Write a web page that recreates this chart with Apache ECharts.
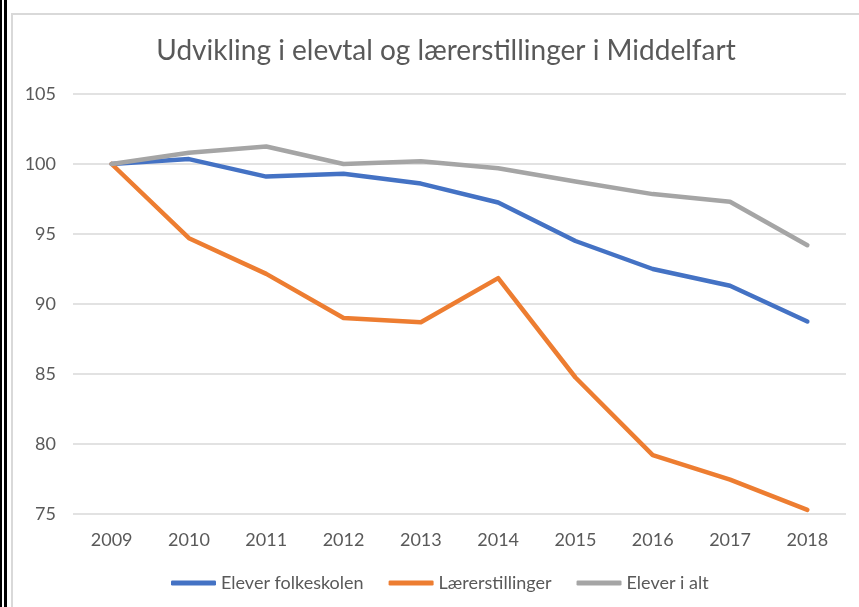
<!DOCTYPE html>
<html lang="da">

<head>
    <meta charset="UTF-8">
    <title>Udvikling i elevtal og lærerstillinger i Middelfart</title>
    <style type="text/css">
        html,
        body {
            margin: 0;
            padding: 0;
            background: #fff;
        }

        #chart {
            width: 859px;
            height: 607px;
        }
    </style>
</head>

<body>
    <div id="chart"></div>
    <script src="https://cdn.jsdelivr.net/npm/echarts@6/dist/echarts.min.js"></script>
    <script type="text/javascript">
        // data (index, 2009 = 100)
        var years = ['2009', '2010', '2011', '2012', '2013', '2014', '2015', '2016', '2017', '2018'];
        var eleverFolkeskolen = [100, 100.35, 99.1, 99.3, 98.6, 97.25, 94.5, 92.5, 91.3, 88.75];
        var laererstillinger = [100, 94.7, 92.15, 89.0, 88.7, 91.85, 84.75, 79.2, 77.45, 75.3];
        var eleverIAlt = [100, 100.8, 101.25, 100.0, 100.2, 99.7, 98.75, 97.85, 97.3, 94.2];
        var seriesNames = ['Elever folkeskolen', 'Lærerstillinger', 'Elever i alt'];
        var colors = ['#4472C4', '#ED7D31', '#A5A5A5'];

        var font = 'Lato, "Open Sans", sans-serif';
        var myChart = echarts.init(document.getElementById('chart'));

        function lineSeries(name, data, color) {
            return {
                name: name,
                type: 'line',
                data: data,
                symbol: 'none',
                smooth: false,
                lineStyle: {
                    color: color,
                    width: 4.5,
                    cap: 'round',
                    join: 'round'
                },
                itemStyle: { color: color }
            };
        }

        var option = {
            backgroundColor: '#fff',
            animation: false,
            textStyle: { fontFamily: font },
            title: {
                text: 'Udvikling i elevtal og lærerstillinger i Middelfart',
                left: 441,
                textAlign: 'center',
                top: 32,
                textStyle: {
                    color: '#595959',
                    fontSize: 28,
                    fontWeight: 'normal',
                    fontFamily: font
                }
            },
            legend: {
                data: seriesNames,
                top: 569,
                left: 166,
                icon: 'roundRect',
                itemWidth: 45,
                itemHeight: 5,
                itemGap: 25,
                textStyle: {
                    color: '#595959',
                    fontSize: 18
                }
            },
            grid: {
                left: 73,
                right: 13,
                top: 94,
                bottom: 93,
                containLabel: false
            },
            xAxis: {
                type: 'category',
                data: years,
                boundaryGap: true,
                axisLine: { show: false },
                axisTick: { show: false },
                axisLabel: {
                    color: '#595959',
                    fontSize: 18,
                    margin: 17
                }
            },
            yAxis: {
                type: 'value',
                min: 75,
                max: 105,
                interval: 5,
                axisLine: { show: false },
                axisTick: { show: false },
                axisLabel: {
                    color: '#595959',
                    fontSize: 18,
                    margin: 17
                },
                splitLine: {
                    lineStyle: { color: '#D9D9D9', width: 1.5 }
                }
            },
            graphic: [
                // outer frame from the screenshot
                { type: 'rect', left: 0, top: 0, shape: { width: 2, height: 607 }, style: { fill: '#000' } },
                { type: 'rect', left: 4, top: 0, shape: { width: 3, height: 607 }, style: { fill: '#000' } },
                { type: 'rect', left: 11, top: 13, shape: { width: 2, height: 594 }, style: { fill: '#D9D9D9' } },
                { type: 'rect', left: 11, top: 13, shape: { width: 848, height: 2 }, style: { fill: '#D9D9D9' } }
            ],
            series: [
                lineSeries(seriesNames[0], eleverFolkeskolen, colors[0]),
                lineSeries(seriesNames[1], laererstillinger, colors[1]),
                lineSeries(seriesNames[2], eleverIAlt, colors[2])
            ]
        };

        myChart.setOption(option);
    </script>
</body>

</html>
